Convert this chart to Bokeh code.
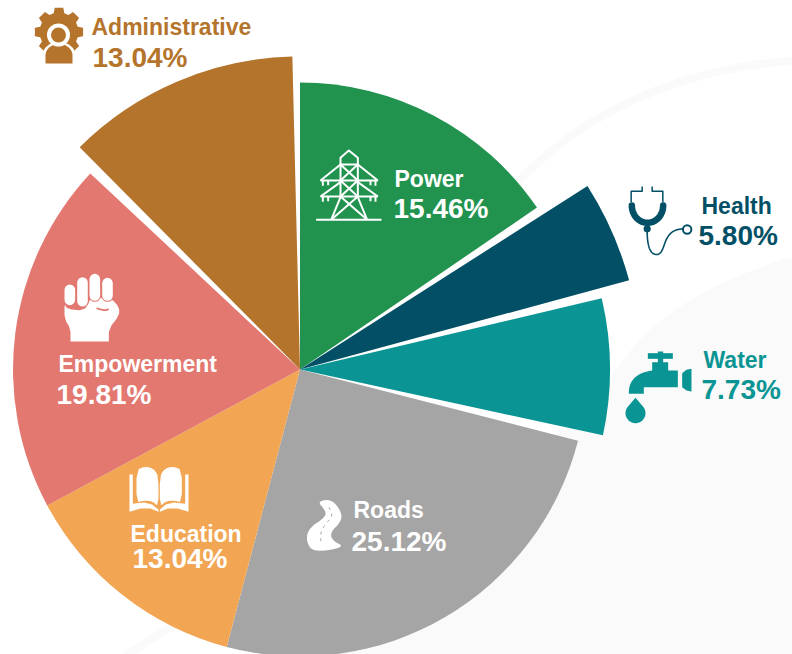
import numpy as np
from bokeh.plotting import figure
from bokeh.models import Range1d
from bokeh.core.properties import value
from bokeh.embed import file_html
from bokeh.resources import INLINE

# ---- data ----
categories = ["Power", "Health", "Water", "Roads", "Education", "Empowerment", "Administrative"]
shares = [15.46, 5.80, 7.73, 25.12, 13.04, 19.81, 13.04]
share_labels = ["15.46%", "5.80%", "7.73%", "25.12%", "13.04%", "19.81%", "13.04%"]
colors = ["#21934F", "#035066", "#0A9594", "#A5A5A5", "#F2A553", "#E27870", "#B4742C"]
radii = [287, 341, 310, 287, 287, 287, 313]
inset_start = [0, 1.8, 0.2, 0, 0, 0, 2.2]
inset_end = [0, 1.7, 2.1, 0, 0, 0, 1.4]
name_colors = ["white", "#035066", "#0A9594", "white", "white", "white", "#B4742C"]
name_pos = [(394, 178), (701, 205), (703, 359), (353, 509), (130, 533), (58, 363), (91, 26)]
share_pos = [(393, 208), (698, 235), (701, 389), (351, 541), (132, 558), (56, 394), (92, 57)]

CX, CY = 299.5, 369.0
W, H = 792, 654

p = figure(width=W, height=H, output_backend="svg", toolbar_location=None,
           x_range=Range1d(0 - CX, W - CX), y_range=Range1d(CY - H, CY),
           min_border=0, outline_line_color=None, background_fill_color="white",
           border_fill_color="white")
p.axis.visible = False
p.grid.visible = False


def X(a):
    return np.asarray(a, dtype=float) - CX


def Y(a):
    return CY - np.asarray(a, dtype=float)


def bez(p0, p1, p2, p3, n=30):
    t = np.linspace(0, 1, n)[:, None]
    a, b, c, d = map(np.array, (p0, p1, p2, p3))
    return (1 - t) ** 3 * a + 3 * (1 - t) ** 2 * t * b + 3 * (1 - t) * t ** 2 * c + t ** 3 * d


def chaikin(pts, n=2, closed=True):
    pts = np.array(pts, dtype=float)
    for _ in range(n):
        q = np.roll(pts, -1, axis=0) if closed else pts[1:]
        s = pts if closed else pts[:-1]
        a = 0.75 * s + 0.25 * q
        b = 0.25 * s + 0.75 * q
        pts = np.empty((2 * len(s), 2))
        pts[0::2] = a
        pts[1::2] = b
    return pts


def zoomed(ox, oy):
    return lambda pts: np.array([(ox + x / 3, oy + y / 3) for x, y in pts], dtype=float)


def fill(pts, color):
    pts = np.asarray(pts)
    p.patch(X(pts[:, 0]), Y(pts[:, 1]), fill_color=color, line_color=None)


def stroke(pts, color, w, cap="butt", dash="solid"):
    pts = np.asarray(pts)
    p.line(X(pts[:, 0]), Y(pts[:, 1]), line_color=color, line_width=w, line_cap=cap,
           line_join="round", line_dash=dash)


def disc(x, y, r, color, line=None, lw=1):
    p.circle(X(x), Y(y), radius=r, fill_color=color, line_color=line, line_width=lw)


# ---- faint background shapes ----
edge = bez((600, 395), (640, 320), (700, 285), (792, 256))
fill(np.vstack([edge, [(792, 654), (300, 654)]]), "#FAFAFA")
stroke(bez((517, 182), (570, 125), (660, 70), (792, 60)), "#FAFAFA", 8)
stroke(bez((125, 656), (140, 645), (160, 632), (180, 622), 8), "#FAFAFA", 8)

# ---- pie ----
cum = np.cumsum([0] + shares) * 3.6
for i, cat in enumerate(categories):
    a = cum[i] + inset_start[i]
    b = cum[i + 1] - inset_end[i]
    p.wedge(x=0, y=0, radius=radii[i], start_angle=np.radians(90 - b),
            end_angle=np.radians(90 - a), direction="anticlock",
            fill_color=colors[i], line_color=None)

# ---- gear icon ----
BROWN = colors[6]
gc = (58.5, 31.5)
ang, rad = [], []
for k in range(8):
    base = k * 45
    for d, r in [(-16, 19.5), (-10, 24.5), (10, 24.5), (16, 19.5)]:
        ang.append(base + d)
        rad.append(r)
ang, rad = np.radians(ang), np.array(rad)
fill(np.c_[gc[0] + rad * np.sin(ang), gc[1] - rad * np.cos(ang)], BROWN)
th = np.linspace(np.pi, 0, 30)
fill(np.vstack([np.c_[58.5 + 16.5 * np.cos(th), 55 - 13.5 * np.sin(th)], [(75, 65), (42, 65)]]), "white")
fill(np.vstack([np.c_[58.5 + 13.5 * np.cos(th), 55 - 11.5 * np.sin(th)], [(72, 63), (45, 63)]]), BROWN)
disc(58, 34.5, 11.5, "white")
disc(58, 34.5, 7.5, BROWN)

# ---- tower icon ----
z = zoomed(290, 40)
tower = [
    [(77, 538), (273, 538)],
    [(150, 372), (150, 352), (175, 330), (202, 352), (202, 372), (150, 372)],
    [(150, 370), (150, 470), (122, 538)],
    [(202, 370), (202, 470), (230, 538)],
    [(90, 420), (262, 420)], [(150, 372), (90, 420)], [(202, 372), (262, 420)],
    [(90, 468), (262, 468)], [(150, 425), (90, 468)], [(202, 425), (262, 468)],
    [(150, 372), (202, 420)], [(202, 372), (150, 420)],
    [(150, 420), (202, 468)], [(202, 420), (150, 468)],
    [(150, 468), (230, 538)], [(202, 468), (122, 538)],
    [(97, 420), (97, 436)], [(113, 420), (113, 434)], [(240, 420), (240, 434)], [(255, 420), (255, 436)],
    [(97, 468), (97, 484)], [(113, 468), (113, 482)], [(240, 468), (240, 482)], [(255, 468), (255, 484)],
]
for seg in tower:
    stroke(z(seg), "white", 2)

# ---- stethoscope icon ----
z = zoomed(570, 170)
TEAL_D = colors[1]
stroke(z([(215, 48), (215, 62), (182, 62), (182, 95)]), TEAL_D, 1.5)
stroke(z([(245, 48), (245, 62), (277, 62), (277, 95)]), TEAL_D, 1.5)
t = np.linspace(np.pi, 2 * np.pi, 30)
stroke(z(np.c_[231 + 47 * np.cos(t), 105 - 52 * np.sin(t)]), TEAL_D, 6.5, cap="round")
ks = z([(230, 175)])[0]
disc(ks[0], ks[1], 3.6, TEAL_D)
tube = np.vstack([bez((230, 180), (230, 215), (235, 252), (258, 252)),
                  bez((258, 252), (290, 252), (270, 175), (340, 175))])
stroke(z(tube), TEAL_D, 1.6)
rs = z([(350, 177)])[0]
disc(rs[0], rs[1], 4.2, "white", TEAL_D, 2)

# ---- tap icon ----
z = zoomed(590, 290)
WATER = colors[2]
fill(z([(172, 188), (247, 188), (247, 205), (172, 205)]), WATER)
fill(z([(202, 183), (218, 183), (218, 220), (202, 220)]), WATER)
fill(z(np.vstack([[(185, 240), (185, 215), (233, 215), (233, 240), (262, 240), (262, 290),
                   (160, 290), (160, 310), (115, 310)],
                  bez((115, 305), (115, 265), (145, 245), (185, 240), 14)])), WATER)
fill(z([(275, 248), (288, 238), (303, 235), (303, 303), (288, 300), (275, 290)]), WATER)
td = np.radians(np.linspace(45, -225, 40))
fill(z(np.vstack([[(135, 322)], np.c_[135 + 30 * np.cos(td), 368 - 30 * np.sin(td)]])), WATER)

# ---- fist icon ----
z = zoomed(40, 260)
SAL = colors[5]
fill(z(chaikin([(72, 128), (80, 146), (130, 150), (146, 125), (150, 112), (212, 113), (236, 140), (236, 165),
                (205, 205), (205, 243), (205, 243), (90, 243), (90, 243), (90, 205), (72, 175)], 1)), "white")
for fx, top, bot in [(88, 88, 118), (126, 66, 122), (163, 56, 105), (201, 68, 105)]:
    stroke(z([(fx, top), (fx, bot)]), SAL, 12.6, cap="round")
    stroke(z([(fx, top), (fx, bot)]), "white", 10.6, cap="round")
stroke(z(chaikin([(150, 138), (198, 152), (207, 140)], 2, closed=False)), SAL, 1.7)

# ---- book icon ----
z = zoomed(110, 450)
fill(z(chaikin([(78, 58), (105, 48), (130, 55), (144, 78), (144, 168), (125, 152), (100, 150), (78, 156)], 1)), "white")
fill(z(chaikin([(214, 58), (187, 48), (162, 55), (148, 78), (148, 168), (167, 152), (192, 150), (214, 156)], 1)), "white")
fill(z([(57, 72), (67, 72), (67, 160), (100, 156), (125, 162), (144, 178), (144, 184), (120, 174), (90, 174), (57, 184)]), "white")
fill(z([(234, 72), (224, 72), (224, 160), (191, 156), (166, 162), (148, 178), (148, 184), (172, 174), (202, 174), (234, 184)]), "white")

# ---- road icon ----
z = zoomed(290, 480)
road = [(80, 62), (125, 56), (156, 100), (148, 128), (120, 155), (125, 180), (165, 200), (68, 216),
        (46, 180), (56, 142), (105, 110), (105, 90)]
fill(z(chaikin(road, 2)), "white")
stroke(z(chaikin([(106, 66), (130, 105), (100, 135), (88, 165), (96, 205)], 2, closed=False)),
       colors[3], 1, dash="3 4")

# ---- texts ----
FONT = "Liberation Sans"
for i, cat in enumerate(categories):
    p.text(X([name_pos[i][0]]), Y([name_pos[i][1]]), text=[cat], text_color=name_colors[i],
           text_font=value(FONT), text_font_style="bold", text_font_size="23px",
           text_align="left", text_baseline="alphabetic")
    p.text(X([share_pos[i][0]]), Y([share_pos[i][1]]), text=[share_labels[i]], text_color=name_colors[i],
           text_font=value(FONT), text_font_style="bold", text_font_size="28px",
           text_align="left", text_baseline="alphabetic")

open("out.html", "w").write(file_html(p, INLINE))
